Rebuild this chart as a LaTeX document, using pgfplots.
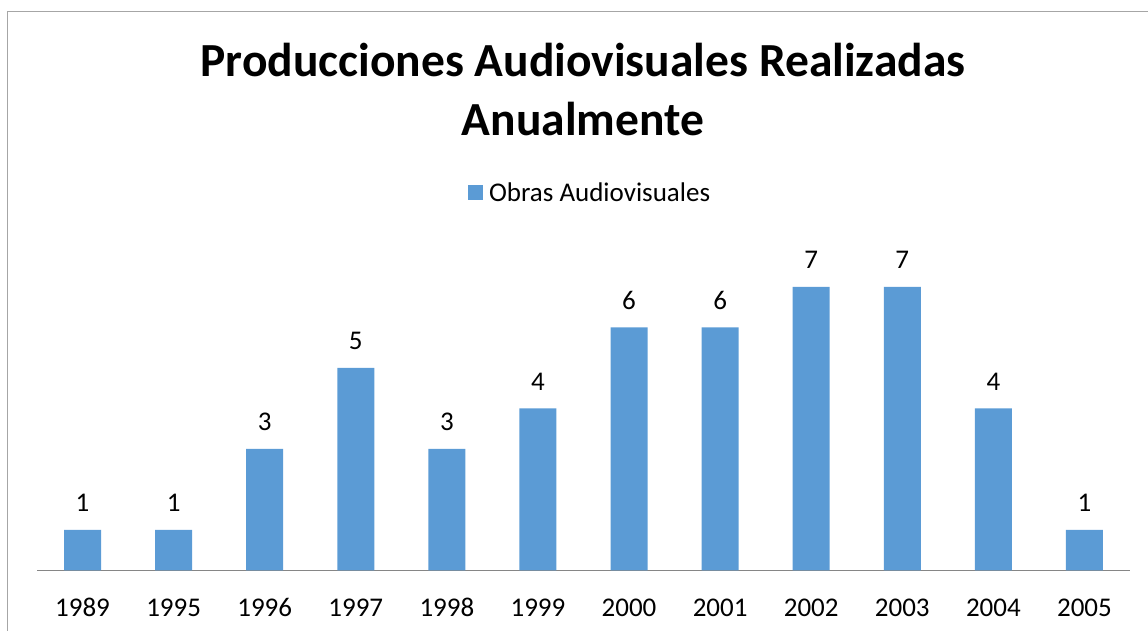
\documentclass[border=0pt]{standalone}
\usepackage{pgfplots}
\pgfplotsset{compat=1.18}
\usepackage{fontspec}
\setmainfont{Carlito}
\definecolor{barblue}{HTML}{5B9BD5}
\definecolor{axgray}{HTML}{868686}
\definecolor{framegray}{HTML}{A6A6A6}
\begin{document}
\begin{tikzpicture}[x=1pt,y=1pt]
\useasboundingbox (0,0) rectangle (1148,631);
\draw[framegray, line width=1.5pt] (7.5,0) -- (7.5,619.5) -- (1148,619.5);
\node[anchor=base, inner sep=0, font=\fontsize{47.5}{56}\selectfont\bfseries] at (583,554) {Producciones Audiovisuales Realizadas};
\node[anchor=base, inner sep=0, font=\fontsize{47.5}{56}\selectfont\bfseries] at (583,495) {Anualmente};
\begin{axis}[
  at={(37pt,60.5pt)}, anchor=south west,
  scale only axis, width=1093pt, height=324pt,
  xmin=-0.5, xmax=11.5, ymin=0, ymax=8,
  hide y axis, axis x line*=bottom,
  x axis line style={axgray, line width=1.5pt, -},
  xtick=data,
  xticklabels={1989,1995,1996,1997,1998,1999,2000,2001,2002,2003,2004,2005},
  xtick style={draw=none},
  xticklabel style={anchor=base, yshift=-41.5pt, inner sep=0, font=\fontsize{27}{31}\selectfont},
  ytick=\empty,
  clip=false,
  ybar, bar width=37pt,
  nodes near coords,
  every node near coord/.append style={anchor=base, yshift=18pt, inner sep=0, font=\fontsize{27}{31}\selectfont, black, /pgf/number format/assume math mode=true},
  legend style={at={(0.506,1.167)}, anchor=center, draw=none, fill=none, font=\fontsize{27}{31}\selectfont, inner sep=0pt},
  legend image code/.code={\fill[barblue] (0pt,-7.5pt) rectangle (15pt,7.5pt); \path (19pt,0pt);},
]
\addplot[fill=barblue, draw=none] coordinates {
(0,1) (1,1) (2,3) (3,5) (4,3) (5,4) (6,6) (7,6) (8,7) (9,7) (10,4) (11,1)
};
\addlegendentry{Obras Audiovisuales}
\end{axis}
\end{tikzpicture}
\end{document}
